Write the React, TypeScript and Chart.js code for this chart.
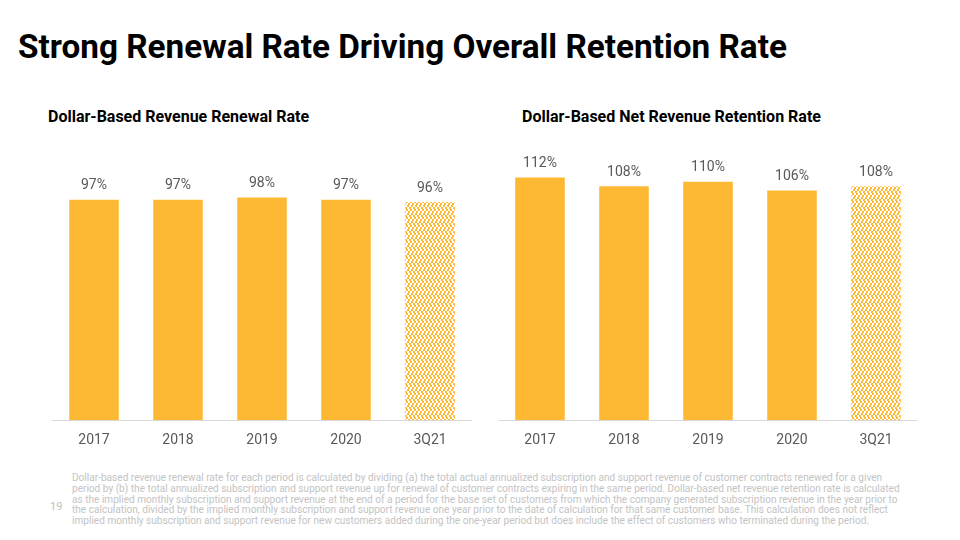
import React, { useEffect, useRef } from "react";
import { Chart, registerables } from "chart.js";

Chart.register(...registerables);

const categories = ["2017", "2018", "2019", "2020", "3Q21"];
const renewalRates = [97, 97, 98, 97, 96];
const retentionRates = [112, 108, 110, 106, 108];
const hatchedIndex = 4;

const ORANGE = "#FDB934";
const GREY_TEXT = "#595959";

function makePattern(): CanvasPattern | string {
  const c = document.createElement("canvas");
  c.width = 8;
  c.height = 8;
  const ctx = c.getContext("2d");
  if (!ctx) return ORANGE;
  ctx.fillStyle = ORANGE;
  ctx.fillRect(0, 0, 8, 8);
  ctx.fillStyle = "#FFFFFF";
  // zigzag white steps, 2px blocks
  ctx.fillRect(0, 0, 2, 2);
  ctx.fillRect(2, 2, 2, 2);
  ctx.fillRect(4, 0, 2, 2);
  ctx.fillRect(6, 2, 2, 2);
  ctx.fillRect(1, 4, 2, 2);
  ctx.fillRect(3, 6, 2, 2);
  ctx.fillRect(5, 4, 2, 2);
  ctx.fillRect(7, 6, 1, 2);
  ctx.fillRect(0, 6, 1, 2);
  const p = ctx.createPattern(c, "repeat");
  return p || ORANGE;
}

const valueLabelPlugin = {
  id: "valueLabels",
  afterDatasetsDraw(chart: any) {
    const ctx = chart.ctx;
    const meta = chart.getDatasetMeta(0);
    const data = chart.data.datasets[0].data as number[];
    ctx.save();
    ctx.font = "14px Roboto";
    ctx.fillStyle = GREY_TEXT;
    ctx.textAlign = "center";
    ctx.textBaseline = "middle";
    meta.data.forEach((bar: any, i: number) => {
      ctx.fillText(data[i] + "%", bar.x, bar.y - 14);
    });
    ctx.restore();
  },
};

function BarChart({ values, max }: { values: number[]; max: number }) {
  const ref = useRef<HTMLCanvasElement>(null);
  useEffect(() => {
    if (!ref.current) return;
    const pattern = makePattern();
    const chart = new Chart(ref.current, {
      type: "bar",
      data: {
        labels: categories,
        datasets: [
          {
            data: values,
            backgroundColor: ((c: any) => (c.dataIndex === hatchedIndex ? pattern : ORANGE)) as any,
            hoverBackgroundColor: ((c: any) => (c.dataIndex === hatchedIndex ? pattern : ORANGE)) as any,
            borderWidth: 0,
            categoryPercentage: 1,
            barPercentage: 0.59,
          },
        ],
      },
      options: {
        responsive: false,
        animation: false,
        layout: { padding: 0 },
        plugins: { legend: { display: false }, tooltip: { enabled: false } },
        scales: {
          x: {
            grid: { display: false },
            border: { display: true, color: "#d9d9d9", width: 1 },
            ticks: { color: GREY_TEXT, font: { family: "Roboto", size: 14 }, padding: 4 },
          },
          y: { display: false, min: 0, max },
        },
      },
      plugins: [valueLabelPlugin],
    });
    return () => chart.destroy();
  }, [values, max]);
  return <canvas ref={ref} width={420} height={316} />;
}

const footLines = [
  "Dollar-based revenue renewal rate for each period is calculated by dividing (a) the total actual annualized subscription and support revenue of customer contracts renewed for a given",
  "period by (b) the total annualized subscription and support revenue up for renewal of customer contracts expiring in the same period. Dollar-based net revenue retention rate is calculated",
  "as the implied monthly subscription and support revenue at the end of a period for the base set of customers from which the company generated subscription revenue in the year prior to",
  "the calculation, divided by the implied monthly subscription and support revenue one year prior to the date of calculation for that same customer base. This calculation does not reflect",
  "implied monthly subscription and support revenue for new customers added during the one-year period but does include the effect of customers who terminated during the period.",
];

export default function App() {
  return (
    <div
      style={{
        position: "absolute",
        left: 0,
        top: 0,
        width: 960,
        height: 540,
        background: "#fff",
        fontFamily: "Roboto, sans-serif",
        overflow: "hidden",
      }}
    >
      <div
        style={{
          position: "absolute",
          left: 18,
          top: 27,
          fontSize: 33.3,
          fontWeight: 700,
          color: "#000",
          lineHeight: "40px",
          whiteSpace: "nowrap",
        }}
      >
        Strong Renewal Rate Driving Overall Retention Rate
      </div>
      <div style={{ position: "absolute", left: 48, top: 107, fontSize: 16, fontWeight: 700, lineHeight: "20px", color: "#000", whiteSpace: "nowrap" }}>
        Dollar-Based Revenue Renewal Rate
      </div>
      <div style={{ position: "absolute", left: 522, top: 107, fontSize: 16, fontWeight: 700, lineHeight: "20px", color: "#000", whiteSpace: "nowrap" }}>
        Dollar-Based Net Revenue Retention Rate
      </div>
      <div style={{ position: "absolute", left: 52, top: 137 }}>
        <BarChart values={renewalRates} max={124.6} />
      </div>
      <div style={{ position: "absolute", left: 498, top: 137 }}>
        <BarChart values={retentionRates} max={130.7} />
      </div>
      <div style={{ position: "absolute", left: 50, top: 500, fontSize: 11, color: "#bfbfbf", lineHeight: "14px" }}>19</div>
      <div
        style={{
          position: "absolute",
          left: 72,
          top: 473,
          fontSize: 10.08,
          lineHeight: "10.75px",
          color: "#c4c4c4",
          whiteSpace: "nowrap",
        }}
      >
        {footLines.map((l, i) => (
          <div key={i}>{l}</div>
        ))}
      </div>
    </div>
  );
}
